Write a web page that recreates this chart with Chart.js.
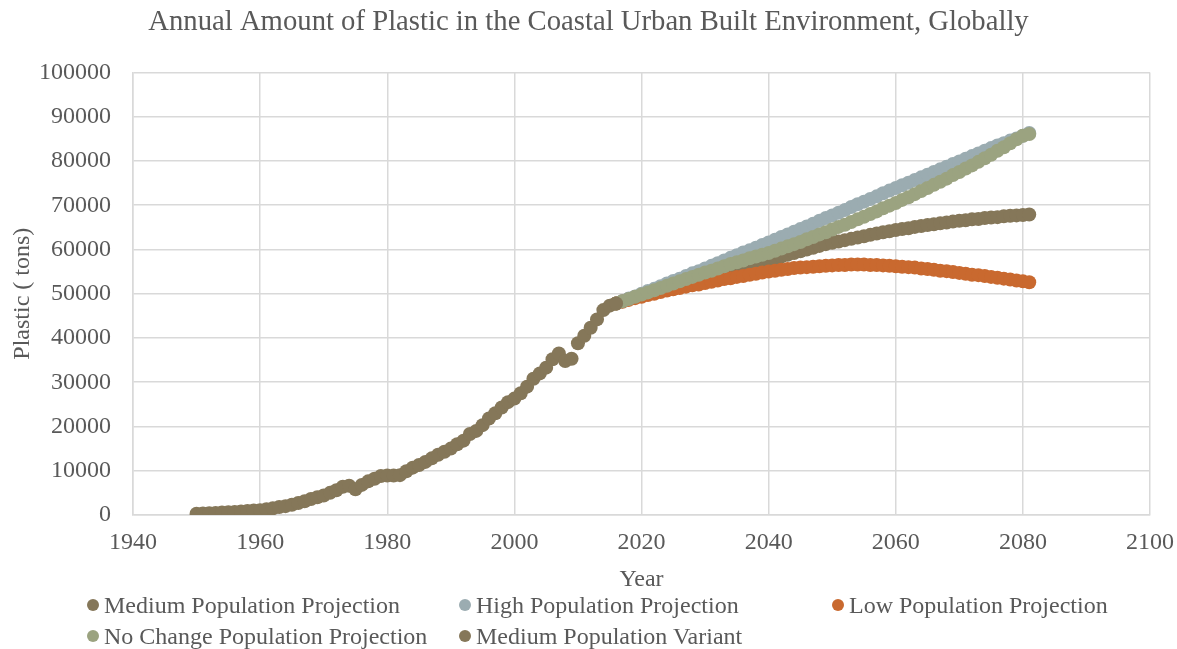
<!DOCTYPE html>
<html>
<head>
<meta charset="utf-8">
<script src="https://cdn.jsdelivr.net/npm/chart.js@4.4.1/dist/chart.umd.min.js"></script>
<style>
  html, body { margin: 0; padding: 0; background: #fff; }
  #wrap { position: relative; width: 1177px; height: 649px; overflow: hidden; }
  canvas { position: absolute; left: 0; top: 0; }
  .leg { position: absolute; font-family: "Liberation Serif", "Times New Roman", serif; font-size: 24px; color: #595959; white-space: nowrap; line-height: 28px; }
  .leg .dot { position: absolute; left: 0; top: 8px; width: 12px; height: 12px; border-radius: 50%; }
  .leg .txt { position: absolute; left: 17px; top: 0; }
</style>
</head>
<body>
<div id="wrap">
  <canvas id="c" width="1177" height="649"></canvas>
  <div id="legend"></div>
</div>
<script>
// ---- Data ----
const histYears = [1950,1951,1952,1953,1954,1955,1956,1957,1958,1959,1960,1961,1962,1963,1964,1965,1966,1967,1968,1969,1970,1971,1972,1973,1974,1975,1976,1977,1978,1979,1980,1981,1982,1983,1984,1985,1986,1987,1988,1989,1990,1991,1992,1993,1994,1995,1996,1997,1998,1999,2000,2001,2002,2003,2004,2005,2006,2007,2008,2009,2010,2011,2012,2013,2014,2015,2016];
const mediumVariant = [300,350,400,450,550,600,700,800,900,1000,1100,1300,1500,1800,2000,2300,2700,3100,3600,4000,4400,5000,5600,6400,6600,5800,6800,7600,8200,8800,8900,8900,9000,9900,10700,11300,12000,12800,13600,14300,15000,16000,16800,18300,19000,20300,21800,23000,24300,25500,26300,27500,29000,30800,32000,33300,35200,36500,34800,35300,38800,40500,42300,44200,46300,47300,47800];

const projYears = [2016,2017,2018,2019,2020,2021,2022,2023,2024,2025,2026,2027,2028,2029,2030,2031,2032,2033,2034,2035,2036,2037,2038,2039,2040,2041,2042,2043,2044,2045,2046,2047,2048,2049,2050,2051,2052,2053,2054,2055,2056,2057,2058,2059,2060,2061,2062,2063,2064,2065,2066,2067,2068,2069,2070,2071,2072,2073,2074,2075,2076,2077,2078,2079,2080,2081];
const mediumProjection = [47800,48300,48800,49200,49700,50200,50600,51100,51500,52000,52400,52900,53300,53800,54200,54600,54900,55300,55600,56000,56300,56600,56900,57300,57600,58000,58400,58800,59200,59600,60000,60400,60800,61200,61500,61800,62100,62400,62700,63000,63300,63600,63900,64100,64400,64600,64800,65100,65300,65500,65700,65900,66100,66300,66500,66600,66800,66900,67100,67200,67300,67500,67600,67700,67800,67900];
const highProjection = [47800,48300,48900,49400,50000,50600,51100,51700,52300,52900,53400,54000,54600,55100,55700,56300,56900,57500,58100,58700,59300,59800,60400,61000,61600,62200,62800,63400,64000,64600,65200,65800,66500,67100,67700,68300,68900,69600,70200,70800,71400,72000,72700,73300,73900,74500,75100,75700,76300,76900,77500,78100,78700,79300,79900,80500,81100,81700,82300,82900,83500,84000,84600,85100,85700,86300];
const lowProjection = [47800,48200,48600,49000,49300,49700,50000,50400,50700,51000,51300,51600,51900,52100,52400,52700,53000,53300,53500,53800,54000,54300,54500,54800,55000,55200,55400,55600,55800,55900,56000,56100,56200,56300,56400,56500,56500,56600,56600,56600,56500,56500,56400,56300,56200,56100,56000,55900,55700,55600,55400,55200,55100,54900,54700,54500,54300,54200,54000,53800,53600,53400,53200,53000,52800,52600];
const noChangeProjection = [47800,48300,48800,49300,49800,50300,50800,51300,51800,52300,52800,53300,53800,54300,54800,55200,55700,56200,56700,57100,57500,58000,58400,58800,59200,59700,60200,60700,61200,61700,62300,62800,63400,63900,64500,65100,65600,66200,66800,67400,68000,68600,69300,69900,70500,71200,71800,72500,73200,73900,74600,75300,76000,76800,77500,78300,79000,79800,80600,81400,82300,83100,84000,84900,85700,86100];

const xTicks = [1940,1960,1980,2000,2020,2040,2060,2080,2100];
const yTicks = [0,10000,20000,30000,40000,50000,60000,70000,80000,90000,100000];

const seriesNames = ["Medium Population Projection","High Population Projection","Low Population Projection","No Change Population Projection","Medium Population Variant"];
const seriesColors = ["#857759","#9BACB1","#C9692F","#9BA380","#857759"];

// ---- Build ----
function pts(xs, ys) { return xs.map((x, i) => ({x: x, y: ys[i]})); }
const seriesData = [
  pts(projYears, mediumProjection),
  pts(projYears, highProjection),
  pts(projYears, lowProjection),
  pts(projYears, noChangeProjection),
  pts(histYears, mediumVariant)
];
const drawOrder = [5,4,3,2,1];

const FONT = "'Liberation Serif', 'Times New Roman', serif";
const TXT = "#595959";
const GRID = "#d9d9d9";

new Chart(document.getElementById('c'), {
  type: 'scatter',
  data: {
    datasets: seriesData.map((d, i) => ({
      label: seriesNames[i],
      data: d,
      order: drawOrder[i],
      backgroundColor: seriesColors[i],
      borderColor: seriesColors[i],
      borderWidth: 0,
      pointRadius: 7,
      pointHoverRadius: 7,
      showLine: false
    }))
  },
  options: {
    responsive: false,
    animation: false,
    events: [],
    layout: { padding: { left: 0, right: 0, top: 0, bottom: 55 } },
    plugins: {
      legend: { display: false },
      tooltip: { enabled: false },
      title: {
        display: true,
        text: 'Annual Amount of Plastic in the Coastal Urban Built Environment, Globally',
        color: TXT,
        font: { family: FONT, size: 28.7, weight: 'normal' },
        padding: { top: 5, bottom: 33 }
      }
    },
    scales: {
      x: {
        type: 'linear',
        min: 1940, max: 2100,
        afterBuildTicks: (s) => { s.ticks = xTicks.map(v => ({value: v})); },
        afterFit: (s) => { s.height = 79; s.paddingLeft = 0; s.paddingRight = 27; },
        grid: { color: GRID, lineWidth: 1.5, drawTicks: false },
        border: { color: GRID, width: 1.5 },
        ticks: { color: TXT, font: { family: FONT, size: 24 }, padding: 13, maxRotation: 0, callback: v => String(v) },
        title: { display: true, text: 'Year', color: TXT, font: { family: FONT, size: 24 }, padding: 0 }
      },
      y: {
        type: 'linear',
        min: 0, max: 100000,
        afterBuildTicks: (s) => { s.ticks = yTicks.map(v => ({value: v})); },
        afterFit: (s) => { s.width = 133; },
        grid: { color: GRID, lineWidth: 1.5, drawTicks: false },
        border: { color: GRID, width: 1.5 },
        ticks: { color: TXT, font: { family: FONT, size: 24 }, padding: 22, callback: v => String(v) },
        title: { display: true, text: 'Plastic ( tons)', color: TXT, font: { family: FONT, size: 24 }, padding: { top: 8, bottom: 0 } }
      }
    }
  }
});

// ---- HTML legend (Excel-style fixed columns) ----
const legendPos = [[87,591],[459,591],[832,591],[87,622],[459,622]];
const legEl = document.getElementById('legend');
seriesNames.forEach((name, i) => {
  const d = document.createElement('div');
  d.className = 'leg';
  d.style.left = legendPos[i][0] + 'px';
  d.style.top = legendPos[i][1] + 'px';
  d.innerHTML = '<span class="dot" style="background:' + seriesColors[i] + '"></span><span class="txt">' + name + '</span>';
  legEl.appendChild(d);
});
</script>
</body>
</html>
